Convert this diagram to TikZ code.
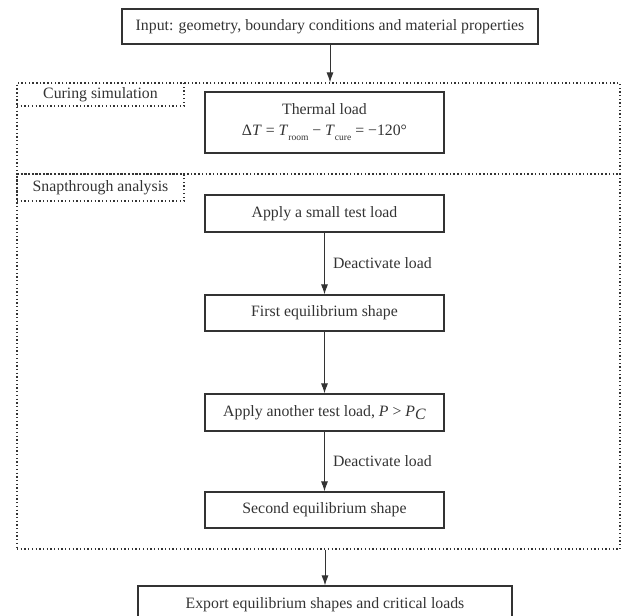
\documentclass[tikz,border=0pt]{standalone}
\usepackage{fontspec}
\setmainfont{Liberation Serif}
\usetikzlibrary{arrows.meta}
\definecolor{inkgray}{HTML}{333333}
\newcommand{\lowsub}[1]{\raisebox{-5pt}{\fontsize{9.5}{10}\selectfont #1}}
\begin{document}
\begin{tikzpicture}[x=1pt, y=-1pt,
	font=\fontsize{15.8}{20}\selectfont, text=inkgray,
	stepbox/.style={draw=inkgray, line width=1.1pt, minimum width=239pt, minimum height=37pt, inner sep=0pt},
	framebox/.style={draw=inkgray, line width=1.1pt, dash pattern=on 1.3pt off 2.4pt, minimum width=603pt, inner sep=0pt},
	framelabel/.style={framebox, anchor=north west, minimum width=167pt},
	arr/.style={draw=inkgray, line width=1pt, -{Latex[length=10pt, width=7pt]}}]
	\clip (0, 0) rectangle (622, 616);
	\node[stepbox, minimum width=416pt, minimum height=35pt] (input) at (330, 26.5) {Input: geometry, boundary conditions and material properties};
	% curing part
	\node[framebox, minimum height=91pt] (cure) at (318.5, 128.5) {};
	\node[framelabel, minimum height=23pt] (curelabel) at (cure.north west) {Curing simulation};
	\node[stepbox, minimum height=61pt, align=center] (thermal) at (324.5, 122.5) {Thermal load\\[1pt]Δ\textit{T} = \textit{T}\lowsub{room} − \textit{T}\lowsub{cure} = −120°};
	% snapthrough part
	\node[framebox, minimum height=375pt] (snap) at (318.5, 361.5) {};
	\node[framelabel, minimum height=27pt] (snaplabel) at (snap.north west) {Snapthrough analysis};
	\node[stepbox] (apply1) at (324.5, 213.5) {Apply a small test load};
	\node[stepbox, minimum height=36pt] (first) at (324.5, 313) {First equilibrium shape};
	\node[stepbox] (apply2) at (324.5, 412.5) {Apply another test load, \textit{P} > \textit{P}\raisebox{-3pt}{\textit{C}}};
	\node[stepbox, minimum height=36pt] (second) at (324.5, 510) {Second equilibrium shape};
	\node[stepbox, minimum width=374pt, minimum height=38pt] (export) at (325, 605) {Export equilibrium shapes and critical loads};
	\draw[arr] (input) -- (input |- cure.north);
	\draw[arr] (apply1) -- node[right, inner sep=8pt] {Deactivate load} (first);
	\draw[arr] (first) -- (apply2);
	\draw[arr] (apply2) -- node[right, inner sep=8pt] {Deactivate load} (second);
	\draw[arr] (export |- snap.south) -- (export);
\end{tikzpicture}
\end{document}
